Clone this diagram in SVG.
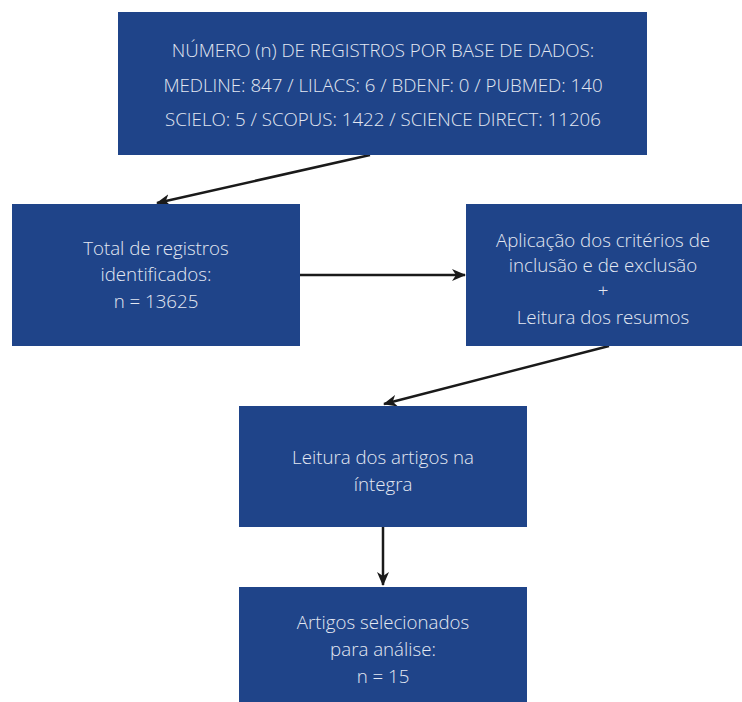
<svg xmlns="http://www.w3.org/2000/svg" width="742" height="702" viewBox="0 0 742 702">
<style>
.box{fill:#1f4489;}
.t{font-family:"Open Sans","Liberation Sans",sans-serif;font-weight:300;font-size:18.7px;fill:#e3e8f2;text-anchor:middle;}
.c{stroke:#1a1a1a;stroke-width:2.5;fill:none;marker-end:url(#ah);}
</style>
<defs>
<marker id="ah" markerWidth="14" markerHeight="12" refX="13" refY="6" orient="auto" markerUnits="userSpaceOnUse">
<path d="M0,0 L14,6 L0,12 L4,6 Z" fill="#1a1a1a"/>
</marker>
</defs>
<rect width="742" height="702" fill="#ffffff"/>
<g id="connectors">
<line class="c" x1="370" y1="155" x2="157" y2="203"/>
<line class="c" x1="300" y1="275" x2="465" y2="275"/>
<line class="c" x1="609" y1="346" x2="384" y2="404"/>
<line class="c" x1="383" y1="527" x2="383" y2="585"/>
</g>
<g id="n1">
<rect class="box" x="118" y="12" width="529" height="143"/>
<text class="t" x="383" y="57">NÚMERO (n) DE REGISTROS POR BASE DE DADOS:</text>
<text class="t" x="383" y="92">MEDLINE: 847 / LILACS: 6 / BDENF: 0 / PUBMED: 140</text>
<text class="t" x="383" y="126">SCIELO: 5 / SCOPUS: 1422 / SCIENCE DIRECT: 11206</text>
</g>
<g id="n2">
<rect class="box" x="12" y="204" width="288" height="142"/>
<text class="t" x="156" y="255">Total de registros</text>
<text class="t" x="156" y="281">identificados:</text>
<text class="t" x="156" y="308">n = 13625</text>
</g>
<g id="n3">
<rect class="box" x="466" y="204" width="276" height="142"/>
<text class="t" x="603" y="247">Aplicação dos critérios de</text>
<text class="t" x="603" y="272">inclusão e de exclusão</text>
<text class="t" x="603" y="297">+</text>
<text class="t" x="603" y="324">Leitura dos resumos</text>
</g>
<g id="n4">
<rect class="box" x="239" y="406" width="288" height="121"/>
<text class="t" x="383" y="464">Leitura dos artigos na</text>
<text class="t" x="383" y="491">íntegra</text>
</g>
<g id="n5">
<rect class="box" x="239" y="587" width="288" height="115"/>
<text class="t" x="383" y="629">Artigos selecionados</text>
<text class="t" x="383" y="656">para análise:</text>
<text class="t" x="383" y="683">n = 15</text>
</g>
</svg>
